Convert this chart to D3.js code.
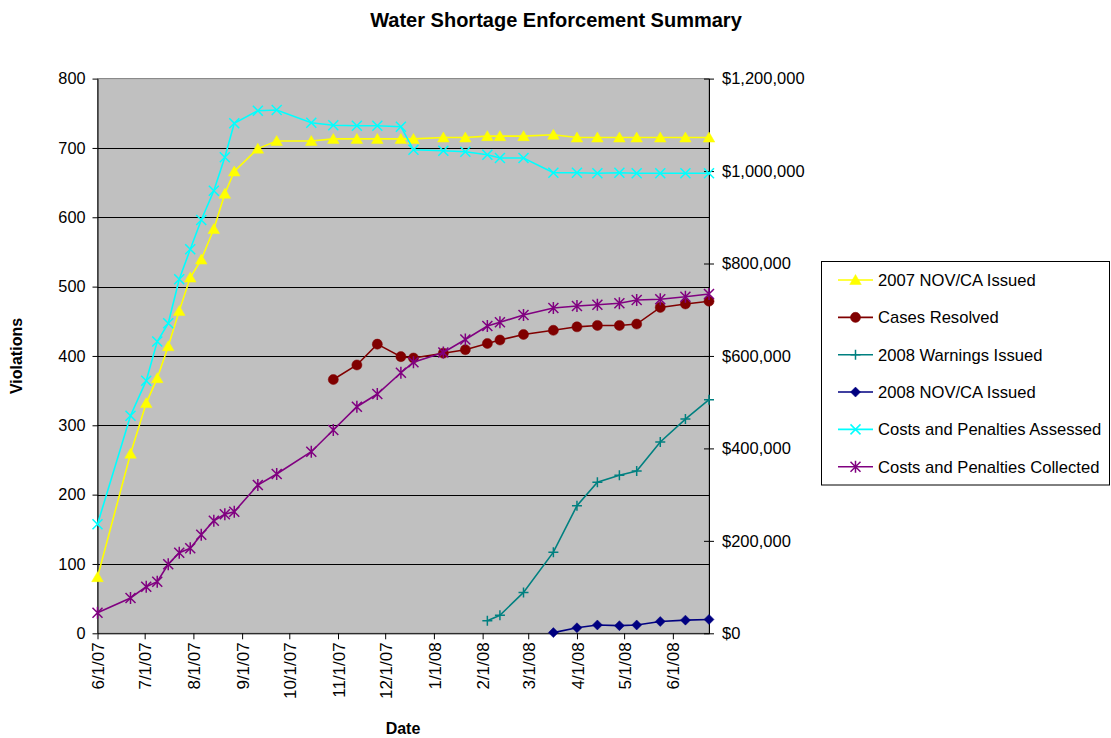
<!DOCTYPE html>
<html>
<head>
<meta charset="utf-8">
<script src="https://cdn.jsdelivr.net/npm/d3@7"></script>
<style>
  html, body { margin: 0; padding: 0; background: #ffffff; }
  svg { display: block; font-family: "Liberation Sans", Arial, sans-serif; }
</style>
</head>
<body>
<svg id="chart" width="1111" height="738"></svg>
<script>
// ---------------- DATA ----------------
const dates = ["6/1/2007","6/22/2007","7/2/2007","7/9/2007","7/16/2007","7/23/2007","7/30/2007","8/6/2007",
  "8/14/2007","8/21/2007","8/27/2007","9/11/2007","9/23/2007","10/15/2007","10/29/2007","11/13/2007",
  "11/26/2007","12/11/2007","12/19/2007","1/7/2008","1/21/2008","2/4/2008","2/12/2008","2/27/2008",
  "3/17/2008","4/1/2008","4/14/2008","4/28/2008","5/9/2008","5/24/2008","6/9/2008","6/24/2008"];

const nov2007 = [81,259,332,368,414,465,513,539,583,634,666,699,710,710,713,713,
  713,713,713,715,715,717,717,717,719,715,715,715,715,715,715,715];

const casesResolved = [null,null,null,null,null,null,null,null,null,null,null,null,null,null,366,387,
  417,399,397,404,409,418,423,431,437,442,444,444,446,470,475,479];

const warnings2008 = [null,null,null,null,null,null,null,null,null,null,null,null,null,null,null,null,
  null,null,null,null,null,18,26,59,117,184,218,228,234,276,309,337];

const nov2008 = [null,null,null,null,null,null,null,null,null,null,null,null,null,null,null,null,
  null,null,null,null,null,null,null,null,1,8,12,11,12,17,19,20];

const costsAssessed = [236000,470700,546500,631200,670600,765800,830700,894100,957500,1029700,1103300,1130500,
  1132000,1104600,1099000,1098000,1098000,1096000,1046200,1044000,1041900,1035400,1028300,1028300,
  996400,996400,995100,996400,995100,995100,995100,995100];

const costsCollected = [44600,76400,100800,111600,149300,174400,183900,213300,243600,257400,263000,320800,
  344600,392800,439800,490200,517700,563700,586300,607400,635600,664800,672800,688600,
  703700,708000,710900,713900,721000,722600,728200,734000];

const leftTicks = [0,100,200,300,400,500,600,700,800];
const rightTicks = [0,200000,400000,600000,800000,1000000,1200000];
const xTickDates = ["6/1/2007","7/1/2007","8/1/2007","9/1/2007","10/1/2007","11/1/2007","12/1/2007",
  "1/1/2008","2/1/2008","3/1/2008","4/1/2008","5/1/2008","6/1/2008"];

const seriesNames = ["2007 NOV/CA Issued","Cases Resolved","2008 Warnings Issued","2008 NOV/CA Issued",
  "Costs and Penalties Assessed","Costs and Penalties Collected"];

// ---------------- LAYOUT ----------------
const parse = d3.timeParse("%m/%d/%Y");
const fmtTick = d3.timeFormat("%-m/%-d/%y");
const svg = d3.select("#chart");
const plot = { left: 97.5, right: 709, top: 78.6, bottom: 633.3 };

const x = d3.scaleTime()
  .domain([parse(dates[0]), parse(dates[dates.length - 1])])
  .range([plot.left, plot.right]);
const yL = d3.scaleLinear().domain([0, 800]).range([plot.bottom, plot.top]);
const yR = d3.scaleLinear().domain([0, 1200000]).range([plot.bottom, plot.top]);

const series = [
  { name: seriesNames[0], values: nov2007, y: yL, color: "#FFFF00", marker: "triangle" },
  { name: seriesNames[1], values: casesResolved, y: yL, color: "#800000", marker: "circle" },
  { name: seriesNames[2], values: warnings2008, y: yL, color: "#008080", marker: "plus" },
  { name: seriesNames[3], values: nov2008, y: yL, color: "#000080", marker: "diamond" },
  { name: seriesNames[4], values: costsAssessed, y: yR, color: "#00FFFF", marker: "x" },
  { name: seriesNames[5], values: costsCollected, y: yR, color: "#800080", marker: "star" }
];

// title
svg.append("text").attr("x", 556).attr("y", 26.5).attr("text-anchor", "middle")
  .attr("font-size", 20).attr("font-weight", "bold").text("Water Shortage Enforcement Summary");

// plot background
svg.append("rect").attr("x", plot.left).attr("y", plot.top)
  .attr("width", plot.right - plot.left).attr("height", plot.bottom - plot.top)
  .attr("fill", "#C0C0C0").attr("stroke", "#808080").attr("stroke-width", 1);

// gridlines
svg.append("g").selectAll("line").data(leftTicks.filter(d => d > 0 && d < 800)).join("line")
  .attr("x1", plot.left).attr("x2", plot.right)
  .attr("y1", d => Math.round(yL(d)) + 0.5).attr("y2", d => Math.round(yL(d)) + 0.5)
  .attr("stroke", "#000").attr("stroke-width", 1);

// left axis
const gL = svg.append("g").attr("transform", `translate(${plot.left},0)`)
  .call(d3.axisLeft(yL).tickValues(leftTicks).tickSize(5).tickPadding(7).tickSizeOuter(0));
gL.select(".domain").attr("stroke", "#000");
gL.selectAll("text").attr("font-size", 16.3).attr("fill", "#000").attr("font-family", "Liberation Sans, Arial");
gL.selectAll(".tick line").attr("stroke", "#000");

// right axis (cross ticks)
const gR = svg.append("g").attr("transform", `translate(${plot.right},0)`)
  .call(d3.axisRight(yR).tickValues(rightTicks).tickSize(5).tickPadding(8).tickSizeOuter(0)
    .tickFormat(d => "$" + d3.format(",")(d)));
gR.select(".domain").attr("stroke", "#000");
gR.selectAll(".tick line").attr("stroke", "#000").attr("x1", -5);
gR.selectAll("text").attr("font-size", 16.5).attr("fill", "#000").attr("font-family", "Liberation Sans, Arial");

// bottom axis
const gB = svg.append("g").attr("transform", `translate(0,${plot.bottom})`)
  .call(d3.axisBottom(x).tickValues(xTickDates.map(parse)).tickSize(6).tickSizeOuter(0).tickFormat(fmtTick));
gB.select(".domain").attr("stroke", "#000");
gB.selectAll(".tick line").attr("stroke", "#000");
gB.selectAll("text").attr("font-size", 17).attr("fill", "#000").attr("font-family", "Liberation Sans, Arial")
  .attr("text-anchor", "end").attr("transform", "rotate(-90)")
  .attr("x", -9).attr("y", 0).attr("dy", "0.36em");

// axis titles
svg.append("text").attr("transform", "translate(22,356) rotate(-90)").attr("text-anchor", "middle")
  .attr("font-size", 16).attr("font-weight", "bold").text("Violations");
svg.append("text").attr("x", 403).attr("y", 734).attr("text-anchor", "middle")
  .attr("font-size", 16).attr("font-weight", "bold").text("Date");

// marker drawing
function markerPath(type) {
  const s = 5;
  switch (type) {
    case "triangle": return `M0,${-s - 0.5}L${s + 0.8},${s - 0.5}L${-s - 0.8},${s - 0.5}Z`;
    case "circle": return d3.symbol(d3.symbolCircle, 80)();
    case "diamond": return `M0,${-s}L${s},0L0,${s}L${-s},0Z`;
    case "plus": return `M${-s},0L${s},0M0,${-s}L0,${s}`;
    case "x": return `M${-s},${-s}L${s},${s}M${-s},${s}L${s},${-s}`;
    case "star": return `M${-s},${-s}L${s},${s}M${-s},${s}L${s},${-s}M0,${-s - 1}L0,${s + 1}`;
  }
}
const filled = { triangle: true, circle: true, diamond: true };

function drawMarker(g, type, color) {
  g.append("path").attr("d", markerPath(type))
    .attr("fill", filled[type] ? color : "none")
    .attr("stroke", color).attr("stroke-width", filled[type] ? 0.5 : 1.5);
}

const dateObjs = dates.map(parse);
series.forEach(s => {
  const pts = s.values.map((v, i) => ({ d: dateObjs[i], v })).filter(p => p.v !== null);
  const line = d3.line().x(p => x(p.d)).y(p => s.y(p.v));
  const g = svg.append("g");
  g.append("path").attr("d", line(pts)).attr("fill", "none")
    .attr("stroke", s.color).attr("stroke-width", 1.6);
  g.selectAll("g.m").data(pts).join("g").attr("class", "m")
    .attr("transform", p => `translate(${x(p.d)},${s.y(p.v)})`)
    .each(function () { drawMarker(d3.select(this), s.marker, s.color); });
});

// legend
const lg = svg.append("g");
lg.append("rect").attr("x", 821.5).attr("y", 261.5).attr("width", 288).attr("height", 223.5)
  .attr("fill", "#fff").attr("stroke", "#000").attr("stroke-width", 1);
series.forEach((s, i) => {
  const cy = 280 + i * 37.35;
  lg.append("line").attr("x1", 838).attr("x2", 873).attr("y1", cy).attr("y2", cy)
    .attr("stroke", s.color).attr("stroke-width", 1.6);
  const mg = lg.append("g").attr("transform", `translate(855.5,${cy})`);
  drawMarker(mg, s.marker, s.color);
  lg.append("text").attr("x", 878).attr("y", cy).attr("dy", "0.36em")
    .attr("font-size", 16.6).text(s.name);
});
</script>
</body>
</html>
